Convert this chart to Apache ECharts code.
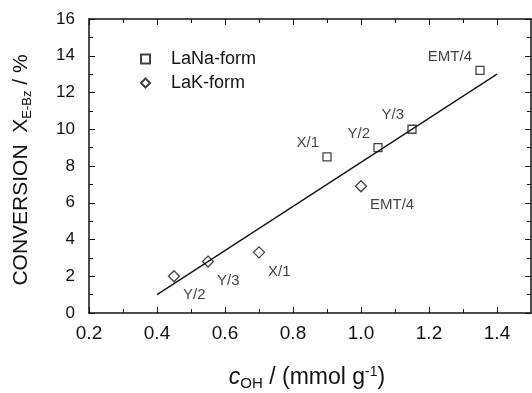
<!doctype html>
<html lang="en">
<head>
    <meta charset="UTF-8">
    <title>Conversion vs c_OH</title>
    <script src="https://cdn.jsdelivr.net/npm/echarts@6/dist/echarts.min.js"></script>
    <style>
        html, body { margin: 0; padding: 0; background: #fff; }
    </style>
</head>
<body>
<div id="main" style="width: 532px;height:393px;"></div>
<script type="text/javascript">

    // LaNa-form (squares)
    var naX = [0.90, 1.05, 1.15, 1.35];
    var naY = [8.5, 9.0, 10.0, 13.2];
    var naNames = ['X/1', 'Y/2', 'Y/3', 'EMT/4'];

    // LaK-form (diamonds)
    var kX = [0.45, 0.55, 0.70, 1.00];
    var kY = [2.0, 2.8, 3.3, 6.9];
    var kNames = ['Y/2', 'Y/3', 'X/1', 'EMT/4'];

    // fitted line
    var fitX = [0.4, 1.4];
    var fitY = [1.0, 13.0];

    // x ticks
    var xMajor = [0.2, 0.4, 0.6, 0.8, 1.0, 1.2, 1.4];
    var xMinor = [0.3, 0.5, 0.7, 0.9, 1.1, 1.3];

    var font = 'Liberation Sans, Arial, sans-serif';
    var ink = '#111';

    function pts(xs, ys, names) {
        return xs.map(function (x, i) {
            return names ? { name: names[i], value: [x, ys[i]] } : [x, ys[i]];
        });
    }

    function xAxisOf(pos, ticks, len, main) {
        return {
            type: 'value', min: 0.2, max: 1.5, position: pos,
            axisLine: { show: main, onZero: false, lineStyle: { color: ink, width: 1.5 } },
            axisTick: { show: true, inside: true, length: len, customValues: ticks,
                lineStyle: { color: ink, width: 1 } },
            axisLabel: main && pos === 'bottom' ? {
                customValues: xMajor, fontSize: 19, color: ink, fontFamily: font, margin: 11,
                formatter: function (v) { return v.toFixed(1); }
            } : { show: false },
            splitLine: { show: false }
        };
    }

    function yAxisOf(pos, labels) {
        return {
            type: 'value', min: 0, max: 16, interval: 2, position: pos,
            axisLine: { show: true, onZero: false, lineStyle: { color: ink, width: 1.5 } },
            axisTick: { show: true, inside: true, length: 6, lineStyle: { color: ink, width: 1 } },
            minorTick: { show: true, splitNumber: 2, length: 4, lineStyle: { color: ink, width: 1 } },
            axisLabel: labels ? { fontSize: 17, color: ink, fontFamily: font, margin: 14 } : { show: false },
            splitLine: { show: false },
            minorSplitLine: { show: false }
        };
    }

    var chart = echarts.init(document.getElementById('main'));

    var option = {
        animation: false,
        backgroundColor: '#fff',
        grid: { left: 89, right: 1, top: 19, bottom: 80 },
        xAxis: [
            xAxisOf('bottom', xMajor, 6, true),
            xAxisOf('bottom', xMinor, 4, false),
            xAxisOf('top', xMajor, 6, true),
            xAxisOf('top', xMinor, 4, false)
        ],
        yAxis: [yAxisOf('left', true), yAxisOf('right', false)],
        legend: {
            orient: 'vertical', left: 135, top: 45,
            itemWidth: 9, itemHeight: 9, itemGap: 6,
            data: ['LaNa-form', 'LaK-form'],
            textStyle: { fontSize: 18, lineHeight: 18, color: ink, fontFamily: font, padding: [0, 0, 0, 16] }
        },
        graphic: [
            {
                type: 'text', x: 21, y: 170, rotation: Math.PI / 2,
                style: {
                    text: '{a|CONVERSION  X}{s|E-Bz}{a| / %}',
                    align: 'center', verticalAlign: 'middle',
                    fill: ink,
                    rich: {
                        a: { fontSize: 21, fontFamily: font, lineHeight: 26, verticalAlign: 'middle', fill: ink },
                        s: { fontSize: 13, fontFamily: font, lineHeight: 14, verticalAlign: 'bottom', fill: ink }
                    }
                }
            },
            {
                type: 'text', x: 307, y: 378,
                style: {
                    text: '{i|c}{s|OH}{a| / (mmol g}{p|-1}{a|)}',
                    align: 'center', verticalAlign: 'middle',
                    fill: ink,
                    rich: {
                        a: { fontSize: 23, fontFamily: font, lineHeight: 26, verticalAlign: 'middle', fill: ink },
                        i: { fontSize: 23, fontFamily: font, fontStyle: 'italic', lineHeight: 26, verticalAlign: 'middle', fill: ink },
                        s: { fontSize: 15, fontFamily: font, lineHeight: 15, verticalAlign: 'bottom', fill: ink },
                        p: { fontSize: 14, fontFamily: font, lineHeight: 14, verticalAlign: 'top', fill: ink }
                    }
                }
            }
        ],
        series: [
            {
                name: 'fit', type: 'line', data: pts(fitX, fitY),
                showSymbol: false, silent: true,
                lineStyle: { color: ink, width: 1.3 }
            },
            {
                name: 'LaNa-form', type: 'scatter', data: pts(naX, naY, naNames),
                symbol: 'rect', symbolSize: 8,
                itemStyle: { color: '#fff', borderColor: ink, borderWidth: 1.3 },
                label: {
                    show: true, position: 'inside', align: 'right', verticalAlign: 'middle',
                    offset: [-8, -14], formatter: '{b}',
                    fontSize: 15, color: ink, fontFamily: font
                }
            },
            {
                name: 'LaK-form', type: 'scatter', data: pts(kX, kY, kNames),
                symbol: 'diamond', symbolSize: 11,
                itemStyle: { color: '#fff', borderColor: ink, borderWidth: 1.3 },
                label: {
                    show: true, position: 'inside', align: 'left', verticalAlign: 'middle',
                    offset: [9, 19], formatter: '{b}',
                    fontSize: 15, color: ink, fontFamily: font
                }
            }
        ]
    };

    chart.setOption(option);

</script>
</body>
</html>
